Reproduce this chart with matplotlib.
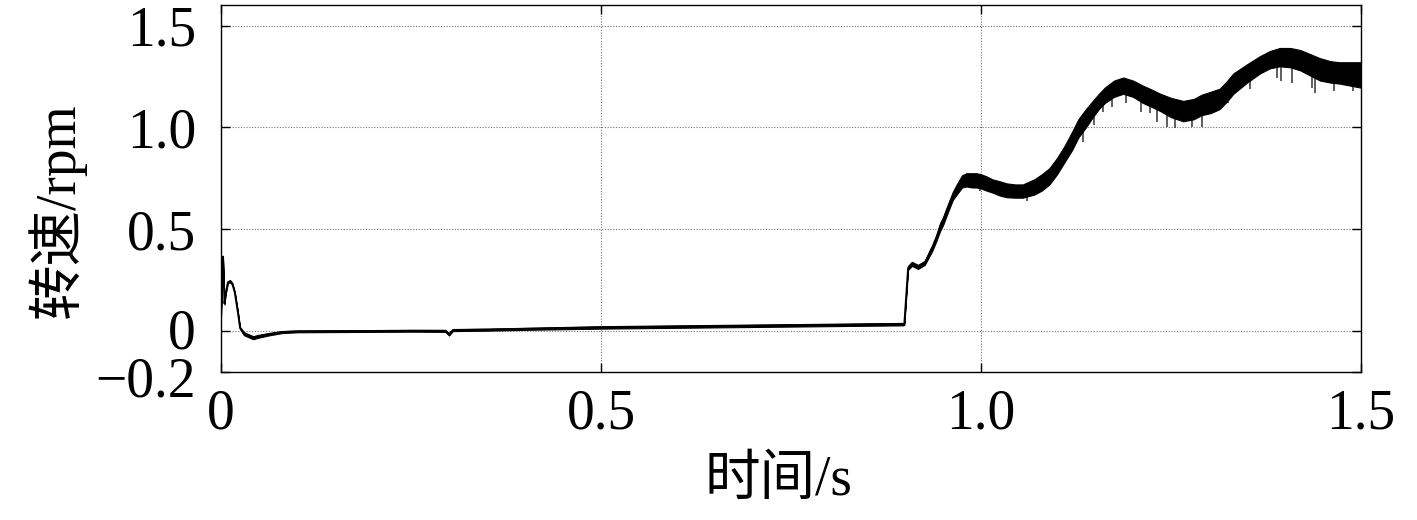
#! /usr/bin/env python3

import matplotlib
matplotlib.use("Agg")
import matplotlib.pyplot as plt
import matplotlib.transforms as mtransforms
import numpy as np

plt.rcParams['font.family'] = ['Liberation Serif', 'Noto Sans CJK SC']
plt.rcParams['axes.unicode_minus'] = True

# time (s) and the low / high envelope of the speed trace (rpm)
t = [0.000, 0.0025, 0.0045, 0.006, 0.009, 0.012, 0.015, 0.018, 0.022, 0.025,
     0.030, 0.036, 0.042, 0.050, 0.062, 0.080, 0.100, 0.150, 0.200, 0.250,
     0.295, 0.300, 0.305, 0.350, 0.400, 0.500, 0.600, 0.700, 0.800, 0.897,
     0.899, 0.904, 0.909, 0.917, 0.926, 0.936, 0.941, 0.946, 0.950, 0.955,
     0.963, 0.968, 0.975, 0.981, 0.988, 0.994, 1.000, 1.007, 1.015, 1.025,
     1.034, 1.045, 1.055, 1.070, 1.080, 1.090, 1.100, 1.110, 1.120, 1.128,
     1.138, 1.147, 1.155, 1.163, 1.175, 1.187, 1.200, 1.213, 1.225, 1.236,
     1.250, 1.266, 1.280, 1.290, 1.302, 1.314, 1.323, 1.332, 1.350, 1.367,
     1.380, 1.393, 1.407, 1.420, 1.433, 1.446, 1.460, 1.472, 1.486, 1.500]
speed_lo = [0.08, 0.36, 0.13, 0.18, 0.235, 0.24, 0.225, 0.185, 0.09, 0.01,
            -0.02, -0.03, -0.04, -0.032, -0.022, -0.01, -0.006, -0.005, -0.004, -0.003,
            -0.004, -0.022, 0.000, 0.002, 0.006, 0.012, 0.016, 0.020, 0.024, 0.028,
            0.030, 0.300, 0.320, 0.305, 0.325, 0.395, 0.440, 0.490, 0.520, 0.570,
            0.645, 0.670, 0.705, 0.710, 0.705, 0.705, 0.700, 0.690, 0.680, 0.665,
            0.657, 0.655, 0.655, 0.670, 0.690, 0.720, 0.770, 0.830, 0.890, 0.950,
            1.000, 1.050, 1.090, 1.120, 1.150, 1.165, 1.150, 1.120, 1.100, 1.080,
            1.050, 1.030, 1.040, 1.060, 1.070, 1.090, 1.125, 1.165, 1.220, 1.265,
            1.290, 1.300, 1.295, 1.280, 1.255, 1.230, 1.220, 1.215, 1.205, 1.195]
speed_hi = [0.10, 0.37, 0.14, 0.19, 0.245, 0.25, 0.235, 0.195, 0.10, 0.02,
            -0.005, -0.015, -0.025, -0.018, -0.01, 0.000, 0.003, 0.004, 0.005, 0.006,
            0.006, -0.010, 0.010, 0.012, 0.016, 0.024, 0.028, 0.032, 0.036, 0.040,
            0.040, 0.320, 0.340, 0.325, 0.345, 0.425, 0.470, 0.530, 0.560, 0.610,
            0.685, 0.720, 0.765, 0.775, 0.775, 0.775, 0.770, 0.760, 0.745, 0.735,
            0.725, 0.720, 0.720, 0.745, 0.770, 0.800, 0.850, 0.910, 0.980, 1.040,
            1.090, 1.130, 1.165, 1.196, 1.230, 1.245, 1.230, 1.205, 1.185, 1.165,
            1.145, 1.130, 1.140, 1.160, 1.175, 1.190, 1.225, 1.265, 1.310, 1.350,
            1.375, 1.390, 1.390, 1.380, 1.360, 1.340, 1.325, 1.320, 1.320, 1.320]

# downward noise spikes: time and tip value
spike_t = [0.999, 1.038, 1.060, 1.134, 1.148, 1.161, 1.172, 1.191, 1.211, 1.222,
           1.231, 1.245, 1.255, 1.278, 1.291, 1.311, 1.325, 1.354, 1.389, 1.395,
           1.409, 1.436, 1.440, 1.464, 1.490]
spike_tip = [0.69, 0.657, 0.64, 0.926, 1.01, 1.075, 1.10, 1.12, 1.075, 1.07,
             1.025, 1.00, 0.995, 1.00, 1.00, 1.10, 1.12, 1.19, 1.245, 1.23,
             1.22, 1.195, 1.17, 1.18, 1.18]

xticks = [0, 0.5, 1.0, 1.5]
xticklabels = ["0", "0.5", "1.0", "1.5"]
yticks = [-0.2, 0, 0.5, 1.0, 1.5]
yticklabels = ["\u22120.2", "0", "0.5", "1.0", "1.5"]

fig = plt.figure( figsize=(14.17, 5.2), dpi=100 )
ax = fig.add_axes( [0.156, 0.285, 0.8045, 0.705] )

t = np.array( t )
lo = np.array( speed_lo )
hi = np.array( speed_hi )
ax.fill_between( t, lo, hi, color="black", lw=0.8, zorder=3 )
ax.plot( t, (lo + hi) / 2, color="black", lw=1.3, zorder=3 )

# spikes hang down from the lower envelope
spike_top = np.interp( spike_t, t, lo )
ax.vlines( spike_t, spike_tip, spike_top, color="0.2", lw=1.1, zorder=2 )

ax.set_xlim( 0, 1.5 )
ax.set_ylim( -0.2, 1.6 )
ax.set_xticks( xticks )
ax.set_xticklabels( xticklabels )
ax.set_yticks( yticks )
ax.set_yticklabels( yticklabels )

ax.grid( True, color="0.45", ls=(0, (1, 1.5)), lw=0.8, zorder=1 )
ax.tick_params( direction="in", length=6.5, width=1, labelsize=40,
                top=True, right=True )
ax.tick_params( axis="x", pad=12 )
ax.tick_params( axis="y", pad=18 )
for s in ax.spines.values():
    s.set_linewidth( 1.0 )

# the -0.2 label sits a little lower than its tick, the 0 label a bit higher
labs = ax.get_yticklabels()
for lab, dy in ((labs[0], -5), (labs[1], 3)):
    lab.set_transform( lab.get_transform() +
                       mtransforms.ScaledTranslation( 0, dy/100, fig.dpi_scale_trans ) )

ax.set_xlabel( "时间/s", fontsize=40 )
ax.set_ylabel( "转速/rpm", fontsize=40 )
ax.xaxis.set_label_coords( 0.489, -0.226 )
ax.yaxis.set_label_coords( -0.119, 0.441 )

fig.savefig( "out.png", dpi=100 )
